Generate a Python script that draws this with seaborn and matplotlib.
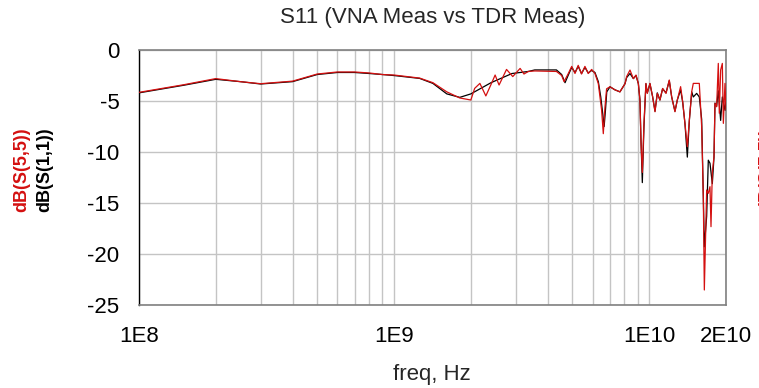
import matplotlib
matplotlib.use('Agg')

import numpy as np
import pandas as pd
import matplotlib.pyplot as plt
import seaborn as sns
from matplotlib.ticker import LogLocator, FixedLocator, FixedFormatter, NullFormatter

# S(1,1) - TDR measurement (black)
freq_s11 = [1.0e8, 1.5e8, 2.0e8, 2.5e8, 3.0e8, 4.0e8, 5.0e8, 6.0e8, 7.0e8, 8.0e8, 9.0e8,
            1.0e9, 1.26e9, 1.42e9, 1.61e9, 1.81e9, 2.0e9, 2.4e9, 2.9e9, 3.36e9,
            3.56e9, 4.33e9, 4.54e9, 4.68e9, 4.82e9, 4.97e9, 5.12e9, 5.27e9, 5.43e9,
            5.60e9, 5.77e9, 5.95e9, 6.13e9, 6.32e9, 6.46e9, 6.58e9, 6.66e9, 6.74e9,
            6.82e9, 7.02e9, 7.34e9, 7.68e9, 8.04e9, 8.16e9, 8.41e9, 8.67e9, 8.88e9,
            9.07e9, 9.20e9, 9.29e9, 9.40e9, 9.54e9, 9.71e9, 9.83e9, 1.007e10, 1.032e10,
            1.054e10, 1.076e10, 1.102e10, 1.129e10, 1.164e10, 1.199e10, 1.225e10,
            1.262e10, 1.289e10, 1.328e10, 1.353e10, 1.381e10, 1.411e10, 1.437e10,
            1.468e10, 1.489e10, 1.535e10, 1.572e10, 1.606e10, 1.630e10, 1.645e10,
            1.680e10, 1.705e10, 1.731e10, 1.768e10, 1.795e10, 1.811e10, 1.838e10,
            1.866e10, 1.906e10, 1.935e10, 1.982e10, 2.0e10]
db_s11 = [-4.2, -3.45, -2.87, -3.1, -3.33, -3.1, -2.4, -2.2, -2.2, -2.3, -2.4,
          -2.5, -2.78, -3.27, -4.3, -4.64, -4.3, -3.2, -2.3, -2.1,
          -1.95, -1.95, -2.4, -3.2, -2.45, -1.7, -2.2, -1.6, -2.3,
          -1.7, -2.25, -2.0, -2.2, -3.1, -4.6, -6.3, -7.5, -5.9,
          -4.1, -3.6, -3.9, -4.1, -3.3, -2.7, -2.3, -2.8, -2.5,
          -3.3, -4.9, -9.0, -13.0, -7.5, -3.3, -4.2, -3.3, -4.6,
          -6.0, -4.2, -4.9, -3.8, -4.2, -3.0, -4.6,
          -6.0, -4.9, -3.9, -5.1, -7.2, -10.5, -6.9,
          -4.1, -4.6, -4.25, -4.6, -6.8, -14.4, -19.3,
          -16.3, -10.8, -11.1, -13.1, -10.5, -5.2, -5.5,
          -4.0, -6.9, -4.6, -5.9, -4.9]

# S(5,5) - VNA measurement (red)
freq_s55 = [1.0e8, 1.5e8, 2.0e8, 2.5e8, 3.0e8, 4.0e8, 5.0e8, 6.0e8, 7.0e8, 8.0e8, 9.0e8,
            1.0e9, 1.26e9, 1.42e9, 1.61e9, 1.81e9, 2.0e9, 2.07e9, 2.17e9, 2.29e9,
            2.41e9, 2.49e9, 2.58e9, 2.76e9, 2.92e9, 3.12e9, 3.23e9, 3.36e9,
            3.56e9, 4.33e9, 4.54e9, 4.64e9, 4.82e9, 4.97e9, 5.12e9, 5.27e9, 5.43e9,
            5.60e9, 5.77e9, 5.95e9, 6.13e9, 6.32e9, 6.51e9, 6.61e9, 6.71e9, 6.81e9,
            7.02e9, 7.34e9, 7.68e9, 8.04e9, 8.16e9, 8.41e9, 8.67e9, 8.88e9,
            9.07e9, 9.20e9, 9.29e9, 9.40e9, 9.54e9, 9.71e9, 9.83e9, 1.007e10, 1.032e10,
            1.054e10, 1.076e10, 1.102e10, 1.129e10, 1.164e10, 1.199e10, 1.225e10,
            1.262e10, 1.289e10, 1.328e10, 1.353e10, 1.381e10, 1.411e10, 1.437e10,
            1.468e10, 1.489e10, 1.535e10, 1.572e10, 1.606e10, 1.630e10, 1.645e10,
            1.680e10, 1.705e10, 1.731e10, 1.747e10, 1.768e10, 1.795e10, 1.811e10,
            1.838e10, 1.866e10, 1.883e10, 1.906e10, 1.935e10, 1.953e10, 1.982e10, 2.0e10]
db_s55 = [-4.15, -3.4, -2.8, -3.1, -3.3, -3.05, -2.35, -2.15, -2.15, -2.25, -2.4,
          -2.45, -2.75, -3.2, -4.1, -4.7, -4.9, -3.76, -3.27, -4.5,
          -3.27, -2.45, -3.43, -1.9, -2.6, -1.8, -2.35, -2.1,
          -2.05, -2.1, -2.5, -3.1, -2.3, -1.6, -2.3, -1.5, -2.35,
          -1.6, -2.3, -1.9, -2.3, -3.3, -5.9, -8.2, -5.6, -3.8,
          -3.6, -3.9, -4.1, -3.3, -2.6, -1.96, -2.8, -2.45,
          -3.3, -4.9, -9.1, -12.0, -7.2, -3.27, -4.25, -3.27, -4.6,
          -6.05, -4.25, -4.9, -3.76, -4.25, -2.94, -4.58,
          -6.05, -4.9, -3.59, -5.07, -7.19, -9.48, -6.86,
          -4.08, -3.27, -3.27, -3.27, -7.52, -14.38, -23.53,
          -13.73, -14.05, -13.4, -17.32, -12.0, -10.46, -5.23,
          -5.56, -1.31, -6.2, -1.96, -1.31, -7.19, -3.27, -5.88]

x_ticks = [1e8, 1e9, 1e10, 2e10]
x_labels = ["1E8", "1E9", "1E10", "2E10"]
y_ticks = [0, -5, -10, -15, -20, -25]

sns.set_style("white")
plt.rcParams['font.family'] = ['Liberation Sans', 'DejaVu Sans']
plt.rcParams['axes.unicode_minus'] = False

fig = plt.figure(figsize=(7.59, 3.88), dpi=100)
ax = fig.add_axes([0.183, 0.214, 0.7735, 0.657])

grid_c = '#c4c4c4'
ax.set_xscale('log')
ax.set_xlim(1e8, 2e10)
ax.set_ylim(-25, 0)

df_black = pd.DataFrame({'freq': freq_s11, 'db': db_s11})
df_red = pd.DataFrame({'freq': freq_s55, 'db': db_s55})
sns.lineplot(data=df_black, x='freq', y='db', color='black', lw=0.9,
             estimator=None, sort=False, ax=ax, zorder=3)
sns.lineplot(data=df_red, x='freq', y='db', color='#d41010', lw=0.9,
             estimator=None, sort=False, ax=ax, zorder=4)

ax.xaxis.set_major_locator(FixedLocator(x_ticks))
ax.xaxis.set_major_formatter(FixedFormatter(x_labels))
ax.xaxis.set_minor_locator(LogLocator(base=10, subs=np.arange(2, 10)))
ax.xaxis.set_minor_formatter(NullFormatter())
ax.set_yticks(y_ticks)

ax.grid(True, which='both', axis='x', color=grid_c, lw=1)
ax.grid(True, which='major', axis='y', color=grid_c, lw=1)
ax.set_axisbelow(True)

ax.tick_params(axis='both', which='major', labelsize=16, colors='#555555',
               width=1, labelcolor='black')
ax.tick_params(axis='x', which='major', length=11, pad=4)
ax.tick_params(axis='y', which='major', length=13, pad=1)
ax.tick_params(axis='x', which='minor', length=0)

for side in ['top', 'right', 'bottom']:
    ax.spines[side].set_color('#808080')
    ax.spines[side].set_linewidth(1.2)
ax.spines['left'].set_color('black')
ax.spines['left'].set_linewidth(1)

ax.set_xlabel("")
ax.set_ylabel("")

fig.text(0.570, 0.954, "S11 (VNA Meas vs TDR Meas)", fontsize=16,
         ha='center', va='center')
fig.text(0.569, 0.034, "freq, Hz", fontsize=16, ha='center', va='center')
fig.text(0.029, 0.562, "dB(S(5,5))", rotation=90, color='#d41010', fontsize=13,
         fontweight='bold', ha='center', va='center')
fig.text(0.059, 0.562, "dB(S(1,1))", rotation=90, color='black', fontsize=13,
         fontweight='bold', ha='center', va='center')
# right-hand axis label, mostly cut off by the figure edge as in the original
fig.text(0.9992, 0.562, "dB(S(5,5))", rotation=90, color='#d41010', fontsize=13,
         fontweight='bold', ha='left', va='center')

fig.savefig("out.png", dpi=100)
